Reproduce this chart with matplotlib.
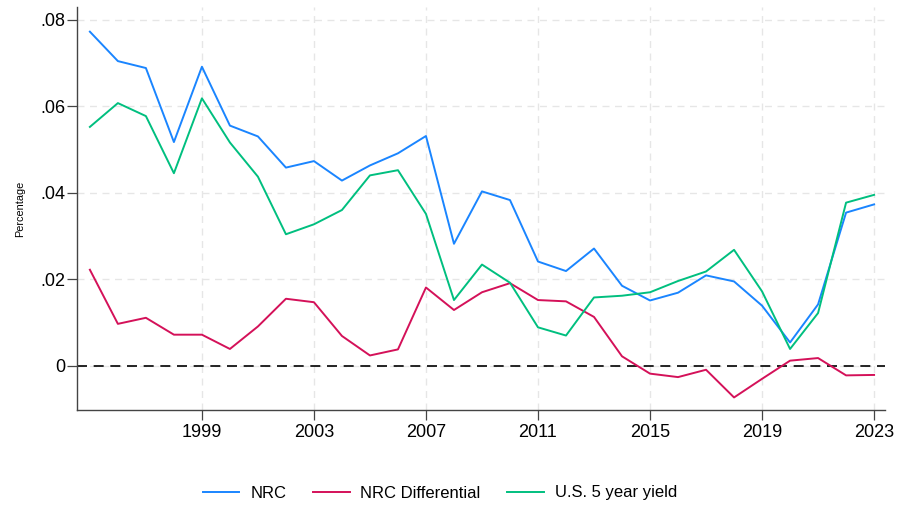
import numpy as np
import matplotlib
matplotlib.use("Agg")
import matplotlib.pyplot as plt

plt.rcParams['font.family'] = ['Liberation Sans', 'DejaVu Sans']

years = list(range(1995, 2024))

nrc = [0.0772, 0.0704, 0.0688, 0.0517, 0.0691, 0.0555, 0.0530, 0.0458, 0.0473, 0.0428,
       0.0463, 0.0491, 0.0531, 0.0282, 0.0403, 0.0383, 0.0241, 0.0219, 0.0271, 0.0185,
       0.0151, 0.0169, 0.0209, 0.0195, 0.0139, 0.0054, 0.0142, 0.0354, 0.0373]

nrc_diff = [0.0222, 0.0097, 0.0111, 0.0072, 0.0072, 0.0039, 0.0091, 0.0155, 0.0147, 0.0069,
            0.0024, 0.0038, 0.0181, 0.0129, 0.0170, 0.0191, 0.0152, 0.0149, 0.0113, 0.0022,
            -0.0018, -0.0026, -0.0009, -0.0073, -0.0030, 0.0012, 0.0018, -0.0022, -0.0021]

yield5 = [0.0552, 0.0607, 0.0577, 0.0445, 0.0618, 0.0516, 0.0437, 0.0304, 0.0327, 0.0360,
          0.0440, 0.0452, 0.0351, 0.0152, 0.0234, 0.0192, 0.0089, 0.0070, 0.0158, 0.0162,
          0.0170, 0.0196, 0.0218, 0.0268, 0.0172, 0.0039, 0.0122, 0.0377, 0.0395]

xticks = [1999, 2003, 2007, 2011, 2015, 2019, 2023]
yticks = [0, 0.02, 0.04, 0.06, 0.08]
ytick_labels = ['0', '.02', '.04', '.06', '.08']

fig = plt.figure(figsize=(8.99, 5.08), dpi=100)
ax = fig.add_axes([77/899, 1 - 410/508, (885 - 77)/899, (410 - 7)/508])

ax.plot(years, nrc, color='#1a85ff', lw=1.4, label='NRC')
ax.plot(years, nrc_diff, color='#d41159', lw=1.4, label='NRC Differential')
ax.plot(years, yield5, color='#00bf7f', lw=1.4, label='U.S. 5 year yield')
ax.axhline(0, color='black', lw=1.2, ls=(0, (6, 4)), zorder=1)

ax.set_xlim(1994.54, 2023.39)
ax.set_ylim(-0.0102, 0.0829)
ax.set_xticks(xticks)
ax.set_yticks(yticks)
ax.set_yticklabels(ytick_labels)

# light dashed grid like the stata scheme
ax.grid(True, color='#e6e6e6', lw=1.0, ls=(0, (5, 4)), zorder=0)
ax.set_axisbelow(True)

for s in ['top', 'right']:
    ax.spines[s].set_visible(False)
for s in ['left', 'bottom']:
    ax.spines[s].set_color('#444444')
    ax.spines[s].set_linewidth(1.0)

ax.tick_params(axis='both', labelsize=13, length=7, width=0.9, color='#444444', pad=3)
ax.tick_params(axis='y', pad=1.5)
ax.set_ylabel('Percentage', fontsize=7.8, labelpad=11)

fig.legend(loc='center', bbox_to_anchor=(440/899, 1 - 493/508), ncol=3, frameon=False,
           fontsize=12, handlelength=2.2, handletextpad=0.65, columnspacing=1.6)

fig.savefig('out.png', dpi=100)
